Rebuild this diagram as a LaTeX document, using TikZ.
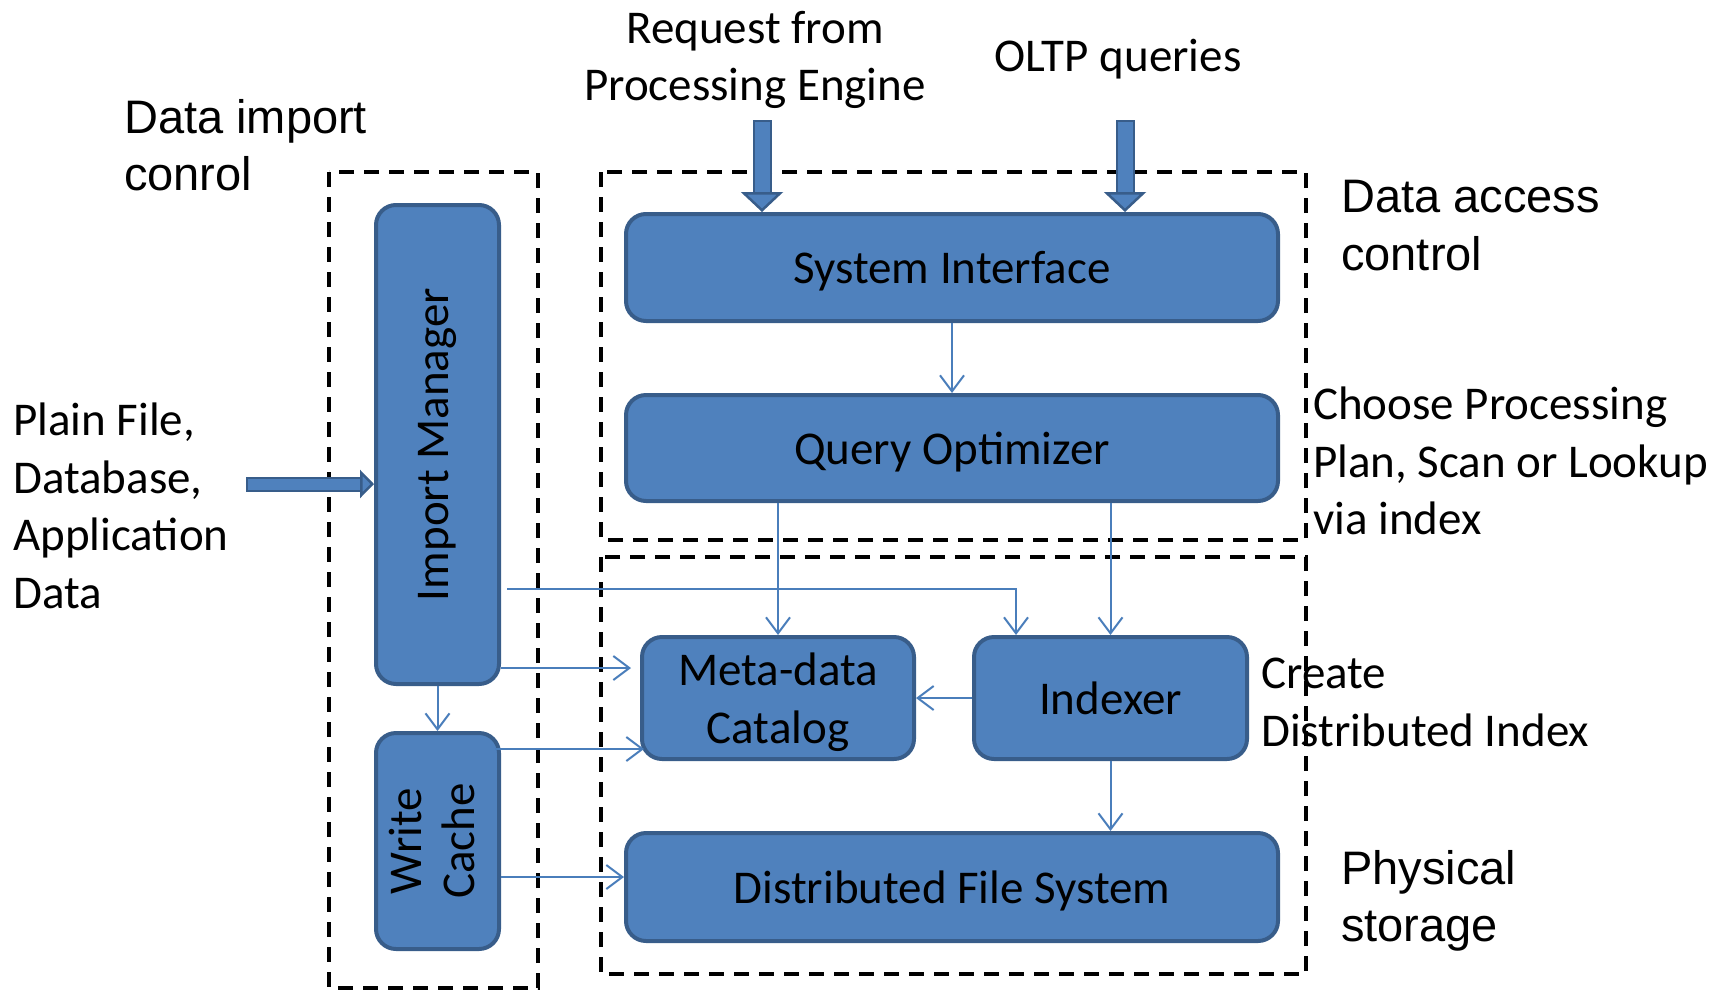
\documentclass[tikz,border=0pt]{standalone}
\usepackage{fontspec}
\setmainfont{Carlito}
\newfontfamily\arialfont{Liberation Sans}
\usetikzlibrary{arrows.meta}
\definecolor{boxblue}{RGB}{79,129,189}
\definecolor{boxedge}{RGB}{56,93,138}
\definecolor{lineblue}{RGB}{74,126,187}

\tikzset{
  blk/.style={draw=boxedge, fill=boxblue, line width=4pt, rounded corners=20pt, align=center, inner sep=0pt},
  flat/.style={text depth=0pt},
  conn/.style={draw=lineblue, line width=2pt, -{Straight Barb[length=16pt,width=24pt,line width=2pt]}},
  region/.style={draw=black, line width=3.5pt, dash pattern=on 15pt off 10pt},
  lbl/.style={inner sep=0pt, align=left, anchor=north west},
  arlbl/.style={lbl, font=\fontsize{47}{57.5}\arialfont},
  fatdown/.style={draw=boxblue, line width=15pt,
    -{Triangle[length=20pt,width=42pt,color=boxedge,fill=boxblue,line width=2.5pt]},
    preaction={draw=boxedge, line width=19pt, -, shorten >=12pt, shorten <=-2pt}},
  fatright/.style={draw=boxblue, line width=11pt,
    -{Triangle[length=14pt,width=28pt,color=boxedge,fill=boxblue,line width=2.5pt]},
    preaction={draw=boxedge, line width=15pt, -, shorten >=8pt, shorten <=-2pt}},
}

\begin{document}
\begin{tikzpicture}[x=1pt, y=-1pt, every node/.style={font=\fontsize{47}{57.5}\selectfont}]
    \useasboundingbox (0,0) rectangle (1735,994);

    % dashed regions
    \draw[region] (329,172) rectangle (538,988);
    \draw[region] (601,172) rectangle (1306,540);
    \draw[region] (601,557) rectangle (1306,974);

    % blocks
    \node[blk, minimum width=123pt, minimum height=479pt] (imp) at (437.5,444.5) {\rotatebox{90}{Import Manager}};
    \node[blk, minimum width=123pt, minimum height=216pt] (wc) at (437.5,841)
        {\rotatebox{90}{{\def\arraystretch{0.92}\begin{tabular}{@{}c@{}}Write\\Cache\end{tabular}}}};
    \node[blk, flat, minimum width=652pt, minimum height=107pt] (sysif) at (952,267.5) {System Interface};
    \node[blk, flat, minimum width=652pt, minimum height=106pt] (qopt) at (952,448) {Query Optimizer};
    \node[blk, flat, minimum width=272pt, minimum height=122pt] (meta) at (778,698) {Meta-data\\Catalog};
    \node[blk, flat, minimum width=273pt, minimum height=122pt] (idx) at (1110.5,698) {Indexer};
    \node[blk, flat, minimum width=652pt, minimum height=108pt] (dfs) at (952,887) {Distributed File System};

    % labels
    \node[lbl, anchor=north, align=center] (req) at (755,11) {Request from\\Processing Engine};
    \node[lbl, anchor=north] (oltp) at (1118,39) {OLTP queries};
    \node[arlbl] (impctl) at (124,99) {Data import\\conrol};
    \node[arlbl] (accctl) at (1341,180) {Data access\\control};
    \node[lbl] (plan) at (1313,387) {Choose Processing\\Plan, Scan or Lookup\\via index};
    \node[lbl] (mkidx) at (1261,658) {Create\\Distributed Index};
    \node[arlbl] (phys) at (1341,850) {Physical\\storage};
    \node[lbl] (src) at (13,403) {Plain File,\\Database,\\Application\\Data};

    % input arrows
    \coordinate (reqin) at (762,122);
    \coordinate (oltpin) at (1125,122);
    \coordinate (srcin) at (248,484);
    \draw[fatdown] (reqin) -- (reqin |- sysif.north);
    \draw[fatdown] (oltpin) -- (oltpin |- sysif.north);
    \draw[fatright] (srcin) -- (srcin -| imp.west);

    % connectors
    \coordinate (m1) at ([yshift=30pt]meta.west);
    \coordinate (m2) at ([yshift=-51pt]meta.west);
    \coordinate (m3) at ([yshift=10pt]dfs.west);
    \coordinate (ix) at ([xshift=44pt]idx.north west);
    \draw[conn] (sysif) -- (qopt);
    \draw[conn] (qopt.south -| meta.north) -- (meta.north);
    \draw[conn] (qopt.south -| idx.north) -- (idx.north);
    \draw[conn] ([xshift=6pt,yshift=-144pt]imp.east) -| (ix);
    \draw[conn, shorten >=9pt] (imp.east |- m1) -- (m1);
    \draw[conn] (idx.west) -- (meta.east);
    \draw[conn] (imp.south) -- (wc.north);
    \draw[conn, shorten <=-6pt, shorten >=-4pt] (wc.east |- m2) -- (m2);
    \draw[conn] (wc.east |- m3) -- (m3);
    \draw[conn] (idx.south) -- (idx.south |- dfs.north);
\end{tikzpicture}
\end{document}
